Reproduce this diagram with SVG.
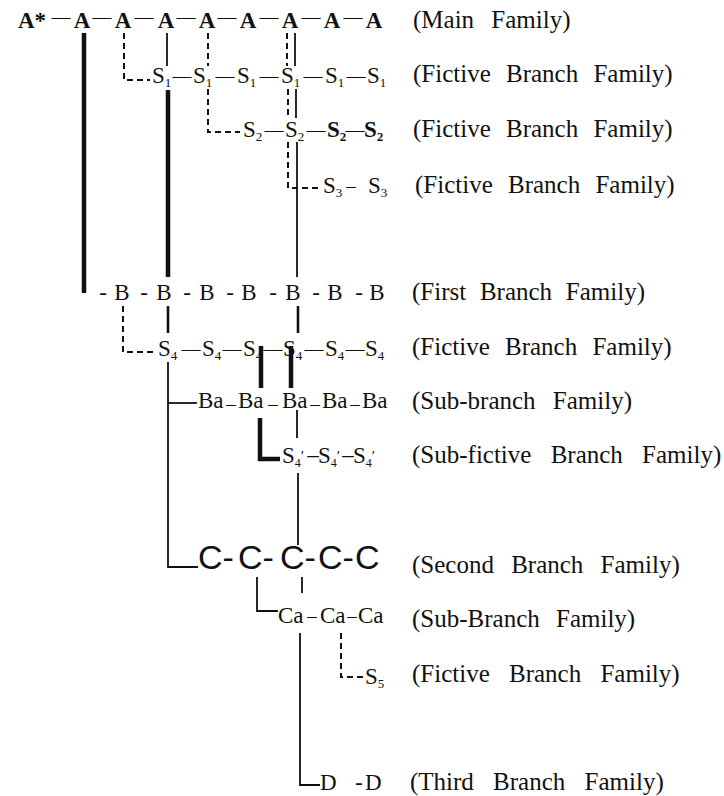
<svg xmlns="http://www.w3.org/2000/svg" width="724" height="796" viewBox="0 0 724 796">
  <style>
    .t { font-family: "Liberation Serif", "Times New Roman", serif; font-size: 23px; fill: #111; }
    .b { font-weight: bold; }
    .m { text-anchor: middle; }
    .sub { font-size: 13px; }
    .dsh { font-size: 19px; }
    .lab { font-family: "Liberation Serif", "Times New Roman", serif; font-size: 25px; fill: #111; }
    .sans { font-family: "Liberation Sans", Arial, sans-serif; font-size: 34px; fill: #111; }
    .ln { fill: none; stroke: #111; stroke-width: 1.8; }
    .md { stroke-width: 2.6; }
    .tk { stroke-width: 4.5; }
    .ds { stroke-dasharray: 6 4; stroke-width: 2; }
  </style>
  <rect width="724" height="796" fill="#fff"/>

  <!-- Main family -->
  <g id="main-family">
    <text class="t b" x="18" y="28">A*</text>
    <text class="t b m"><tspan x="82" y="28">A</tspan><tspan x="123" y="28">A</tspan><tspan x="166" y="28">A</tspan><tspan x="207" y="28">A</tspan><tspan x="248" y="28">A</tspan><tspan x="290" y="28">A</tspan><tspan x="332" y="28">A</tspan><tspan x="374" y="28">A</tspan></text>
    <text class="t dsh m"><tspan x="61" y="23">—</tspan><tspan x="102" y="23">—</tspan><tspan x="144" y="23">—</tspan><tspan x="186" y="23">—</tspan><tspan x="227" y="23">—</tspan><tspan x="269" y="23">—</tspan><tspan x="311" y="23">—</tspan><tspan x="353" y="23">—</tspan></text>
    <text class="lab" x="413" y="28" word-spacing="11">(Main Family)</text>
  </g>

  <!-- Fictive branch family S1 -->
  <g id="fictive-s1">
    <text class="t" x="152" y="83">S<tspan class="sub" dy="4">1</tspan></text>
    <text class="t" x="193" y="83">S<tspan class="sub" dy="4">1</tspan></text>
    <text class="t" x="237" y="83">S<tspan class="sub" dy="4">1</tspan></text>
    <text class="t" x="281" y="83">S<tspan class="sub" dy="4">1</tspan></text>
    <text class="t" x="325" y="83">S<tspan class="sub" dy="4">1</tspan></text>
    <text class="t" x="367" y="83">S<tspan class="sub" dy="4">1</tspan></text>
    <text class="t dsh m"><tspan x="182" y="82">—</tspan><tspan x="225" y="82">—</tspan><tspan x="269" y="82">—</tspan><tspan x="313" y="82">—</tspan><tspan x="356" y="82">—</tspan></text>
    <text class="lab" x="413" y="82" word-spacing="9">(Fictive Branch Family)</text>
  </g>

  <!-- Fictive branch family S2 -->
  <g id="fictive-s2">
    <text class="t" x="243" y="137">S<tspan class="sub" dy="4">2</tspan></text>
    <text class="t" x="285" y="137">S<tspan class="sub" dy="4">2</tspan></text>
    <text class="t b" x="327" y="137">S<tspan class="sub" dy="4">2</tspan></text>
    <text class="t b" x="364" y="137">S<tspan class="sub" dy="4">2</tspan></text>
    <text class="t dsh m"><tspan x="274" y="136">—</tspan><tspan x="316" y="136">—</tspan><tspan x="355" y="136">—</tspan></text>
    <text class="lab" x="413" y="137" word-spacing="9">(Fictive Branch Family)</text>
  </g>

  <!-- Fictive branch family S3 -->
  <g id="fictive-s3">
    <text class="t" x="323" y="193">S<tspan class="sub" dy="4">3</tspan></text>
    <text class="t dsh m" x="351" y="192">–</text>
    <text class="t" x="368" y="193">S<tspan class="sub" dy="4">3</tspan></text>
    <text class="lab" x="415" y="193" word-spacing="9">(Fictive Branch Family)</text>
  </g>

  <!-- First branch family -->
  <g id="first-branch">
    <text class="t m"><tspan x="103" y="300">-</tspan><tspan x="122" y="300">B</tspan><tspan x="144" y="300">-</tspan><tspan x="164" y="300">B</tspan><tspan x="187" y="300">-</tspan><tspan x="207" y="300">B</tspan><tspan x="230" y="300">-</tspan><tspan x="249" y="300">B</tspan><tspan x="273" y="300">-</tspan><tspan x="293" y="300">B</tspan><tspan x="316" y="300">-</tspan><tspan x="335" y="300">B</tspan><tspan x="359" y="300">-</tspan><tspan x="377" y="300">B</tspan></text>
    <text class="lab" x="412" y="300" word-spacing="7.5">(First Branch Family)</text>
  </g>

  <!-- Fictive branch family S4 -->
  <g id="fictive-s4">
    <text class="t" x="158" y="356">S<tspan class="sub" dy="4">4</tspan></text>
    <text class="t" x="202" y="356">S<tspan class="sub" dy="4">4</tspan></text>
    <text class="t" x="243" y="356">S<tspan class="sub" dy="4">4</tspan></text>
    <text class="t" x="283" y="356">S<tspan class="sub" dy="4">4</tspan></text>
    <text class="t" x="325" y="356">S<tspan class="sub" dy="4">4</tspan></text>
    <text class="t" x="365" y="356">S<tspan class="sub" dy="4">4</tspan></text>
    <text class="t dsh m"><tspan x="191" y="355">—</tspan><tspan x="232" y="355">—</tspan><tspan x="273" y="355">—</tspan><tspan x="314" y="355">—</tspan><tspan x="355" y="355">—</tspan></text>
    <text class="lab" x="412" y="355" word-spacing="9">(Fictive Branch Family)</text>
  </g>

  <!-- Sub-branch family Ba -->
  <g id="sub-branch-ba">
    <text class="t"><tspan x="198" y="408">Ba</tspan><tspan x="238" y="408">Ba</tspan><tspan x="282" y="408">Ba</tspan><tspan x="322" y="408">Ba</tspan><tspan x="362" y="408">Ba</tspan></text>
    <text class="t dsh m"><tspan x="231" y="410">–</tspan><tspan x="273" y="410">–</tspan><tspan x="315" y="410">–</tspan><tspan x="355" y="410">–</tspan></text>
    <text class="lab" x="412" y="409" word-spacing="11">(Sub-branch Family)</text>
  </g>

  <!-- Sub-fictive branch family S4' -->
  <g id="sub-fictive-s4p">
    <text class="t" x="282" y="463" font-size="22">S<tspan font-size="12" dy="4">4</tspan><tspan font-size="15" dy="-6">′</tspan></text>
    <text class="t" x="318" y="463" font-size="22">S<tspan font-size="12" dy="4">4</tspan><tspan font-size="15" dy="-6">′</tspan></text>
    <text class="t" x="353" y="463" font-size="22">S<tspan font-size="12" dy="4">4</tspan><tspan font-size="15" dy="-6">′</tspan></text>
    <text class="t m" font-size="13"><tspan x="313" y="462">–</tspan><tspan x="348" y="462">–</tspan></text>
    <text class="lab" x="412" y="463" word-spacing="13">(Sub-fictive Branch Family)</text>
  </g>

  <!-- Second branch family -->
  <g id="second-branch">
    <text class="sans"><tspan x="198" y="569">C</tspan><tspan x="222.5" y="569">-</tspan><tspan x="238" y="569">C</tspan><tspan x="262.5" y="569">-</tspan><tspan x="280" y="569">C</tspan><tspan x="304.5" y="569">-</tspan><tspan x="318" y="569">C</tspan><tspan x="342.5" y="569">-</tspan><tspan x="355" y="569">C</tspan></text>
    <text class="lab" x="412" y="573" word-spacing="11">(Second Branch Family)</text>
  </g>

  <!-- Sub-branch family Ca -->
  <g id="sub-branch-ca">
    <text class="t"><tspan x="278" y="623">Ca</tspan><tspan x="320" y="623">Ca</tspan><tspan x="358" y="623">Ca</tspan></text>
    <text class="t dsh m"><tspan x="312" y="622">–</tspan><tspan x="352" y="622">–</tspan></text>
    <text class="lab" x="412" y="627" word-spacing="10">(Sub-Branch Family)</text>
  </g>

  <!-- Fictive branch family S5 -->
  <g id="fictive-s5">
    <text class="t" x="365" y="684">S<tspan class="sub" dy="4">5</tspan></text>
    <text class="lab" x="412" y="682" word-spacing="13">(Fictive Branch Family)</text>
  </g>

  <!-- Third branch family -->
  <g id="third-branch">
    <text class="t"><tspan x="320" y="790">D</tspan><tspan x="355" y="790">-</tspan><tspan x="365" y="790">D</tspan></text>
    <text class="lab" x="410" y="790" word-spacing="13">(Third Branch Family)</text>
  </g>

  <!-- Connectors -->
  <g id="connectors">
    <path class="ln tk" d="M84 33 V293"/>
    <path class="ln ds" d="M124 33 V80 H150"/>
    <path class="ln" d="M167 33 V66"/>
    <path class="ln ds" d="M208 33 V66"/>
    <path class="ln ds" d="M287 33 V66"/>
    <path class="ln" d="M295 33 V66"/>
    <path class="ln tk" d="M168 90 V277"/>
    <path class="ln ds" d="M208 89 V132 H240"/>
    <path class="ln ds" d="M288 89 V118"/>
    <path class="ln" d="M296 89 V118"/>
    <path class="ln ds" d="M288 142 V188 H322"/>
    <path class="ln" d="M297 142 V277"/>
    <path class="ln ds" d="M123 306 V352 H155"/>
    <path class="ln md" d="M168 306 V333"/>
    <path class="ln md" d="M298 306 V333"/>
    <path class="ln tk" d="M261 346 V388"/>
    <path class="ln tk" d="M291 346 V388"/>
    <path class="ln" d="M168 362 V567 H198"/>
    <path class="ln" d="M168 403 H197"/>
    <path class="ln" d="M297 410 V438"/>
    <path class="ln tk" d="M260 418 V459 H280"/>
    <path class="ln" d="M298 473 V545"/>
    <path class="ln" d="M302 577 V593"/>
    <path class="ln" d="M257 577 V611 H278"/>
    <path class="ln" d="M300 633 V785 H320"/>
    <path class="ln ds" d="M341 633 V677 H364"/>
  </g>
</svg>
